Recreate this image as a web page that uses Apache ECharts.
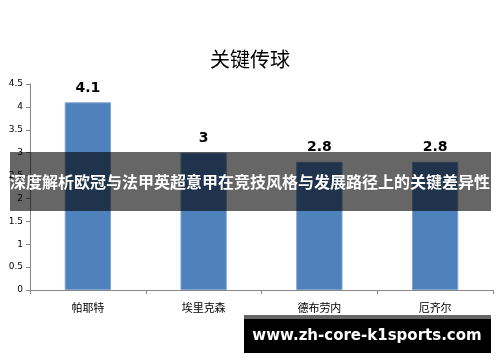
<!DOCTYPE html>
<html><head><meta charset="utf-8">
<script src="https://cdn.jsdelivr.net/npm/echarts@6/dist/echarts.min.js"></script>
<style>html,body{margin:0;padding:0;background:#fff}#c{width:500px;height:362px}</style>
</head><body><div id="c"></div>
<script>
const titleText = '关键传球';
const categories = ['帕耶特', '埃里克森', '德布劳内', '厄齐尔'];
const keyPasses = [4.1, 3, 2.8, 2.8];
const yTicks = {min: 0, max: 4.5, interval: 0.5};
const bannerText = '深度解析欧冠与法甲英超意甲在竞技风格与发展路径上的关键差异性';
const watermarkText = 'www.zh-core-k1sports.com';

const font = '"Noto Sans CJK SC", "Noto Sans", sans-serif';
const chart = echarts.init(document.getElementById('c'), null, {renderer: 'canvas'});
chart.setOption({
  animation: false,
  backgroundColor: '#fff',
  title: {text: titleText, left: 'center', top: 44,
    textStyle: {fontFamily: font, fontSize: 20, fontWeight: 'normal', color: '#000'}},
  grid: {left: 30, right: 7, top: 84, bottom: 72},
  xAxis: {type: 'category', data: categories,
    axisLine: {lineStyle: {color: '#868686'}},
    axisTick: {show: true, alignWithLabel: false, length: 4, lineStyle: {color: '#868686'}},
    axisLabel: {fontFamily: font, fontSize: 11, color: '#000', margin: 12}},
  yAxis: {type: 'value', min: yTicks.min, max: yTicks.max, interval: yTicks.interval,
    splitLine: {show: false},
    axisLine: {show: true, lineStyle: {color: '#868686'}},
    axisTick: {show: true, length: 4, lineStyle: {color: '#868686'}},
    axisLabel: {fontFamily: '"DejaVu Sans", sans-serif', fontSize: 9, color: '#000', margin: 7}},
  series: [{type: 'bar', data: keyPasses, barWidth: '40%',
    itemStyle: {color: '#4F81BD', borderColor: '#7FA3CF', borderWidth: 1},
    label: {show: true, position: 'top', distance: 7,
      fontFamily: '"DejaVu Sans", sans-serif', fontSize: 14, fontWeight: 'bold', color: '#000'}}],
  graphic: [
    {type: 'rect', shape: {x: 10, y: 152, width: 481, height: 59},
      style: {fill: 'rgba(0,0,0,0.6)'}, z: 100},
    {type: 'text', x: 250, y: 182, z: 101,
      style: {text: bannerText, fill: '#fff', font: 'bold 16px ' + font,
        textAlign: 'center', textVerticalAlign: 'middle'}},
    {type: 'rect', shape: {x: 244, y: 315, width: 247, height: 5},
      style: {fill: '#666'}, z: 100},
    {type: 'rect', shape: {x: 244, y: 319, width: 247, height: 34},
      style: {fill: '#000'}, z: 100},
    {type: 'text', x: 367, y: 336, z: 101,
      style: {text: watermarkText, fill: '#fff', font: 'bold 15px "DejaVu Sans", sans-serif',
        textAlign: 'center', textVerticalAlign: 'middle'}}
  ]
});
</script></body></html>
